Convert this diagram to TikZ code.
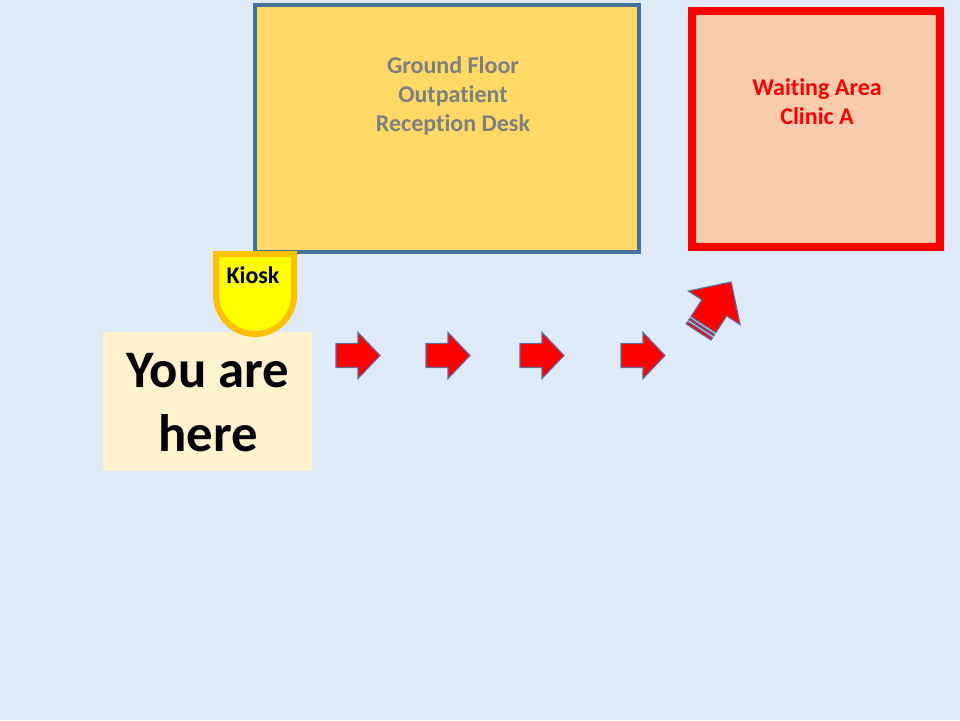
\documentclass[tikz,border=0pt]{standalone}
\usepackage{fontspec}
\setmainfont[Ligatures=NoCommon]{Carlito}
\definecolor{pagebg}{HTML}{DEEBF7}
\definecolor{deskfill}{HTML}{FFD966}
\definecolor{deskline}{HTML}{41719C}
\definecolor{deskgray}{HTML}{7F7F7F}
\definecolor{waitfill}{HTML}{F8CBAD}
\definecolor{herefill}{HTML}{FFF2CC}
\definecolor{kioskfill}{HTML}{FFFF00}
\definecolor{kioskline}{HTML}{FFC000}
\definecolor{arrowred}{HTML}{FF0000}
\definecolor{arrowline}{HTML}{5A6EA0}
\tikzset{
    redarrow/.style={fill=arrowred,draw=arrowline,line width=0.8pt,line join=miter},
    labeltext/.style={align=center,font=\bfseries}
}
\begin{document}
\begin{tikzpicture}
    \useasboundingbox (0,0) rectangle (24,18);
    \fill [pagebg] (0,0) rectangle (24,18);

    \draw [fill=deskfill,draw=deskline,line width=0.1cm] (6.375,11.7) rectangle (15.975,17.875);
    \node [labeltext,text=deskgray,font=\bfseries\fontsize{17.1}{20.6}\selectfont] (desk) at (11.325,15.6) {Ground Floor\\Outpatient\\Reception Desk};

    \draw [fill=waitfill,draw=arrowred,line width=0.2cm] (17.3,11.825) rectangle (23.5,17.725);
    \node [labeltext,text=arrowred,font=\bfseries\fontsize{17.1}{20.6}\selectfont] (waiting) at (20.425,15.4625) {Waiting Area\\Clinic A};

    \fill [herefill] (2.575,6.225) rectangle (7.8,9.7);
    \node [labeltext,font=\bfseries\fontsize{37.5}{45.5}\selectfont] (here) at (5.2,7.925) {You are\\here};

    \draw [fill=kioskfill,draw=kioskline,line width=0.15cm] (5.4,11.65) -- (7.35,11.65) -- (7.35,10.625) arc (0:-180:0.975) -- cycle;
    \node [labeltext,font=\bfseries\fontsize{17}{20}\selectfont] (kiosk) at (6.325,11.125) {Kiosk};

    \foreach \x in {8.4,10.65,13,15.525} {
        \draw [redarrow,shift={(\x,9.1125)}] (0,-0.3) -- (0.55,-0.3) -- (0.55,-0.575) -- (1.1,0) -- (0.55,0.575) -- (0.55,0.3) -- (0,0.3) -- cycle;
    }

    % striped arrow up to the clinic
    \begin{scope}[shift={(17.585,9.885)},rotate=57]
        \draw [redarrow] (0,-0.37) -- (0.5,-0.37) -- (0.5,-0.77) -- (1.27,0) -- (0.5,0.77) -- (0.5,0.37) -- (0,0.37) -- cycle;
        \draw [redarrow] (-0.1,-0.37) rectangle (-0.05,0.37);
        \draw [redarrow] (-0.22,-0.37) rectangle (-0.15,0.37);
    \end{scope}
\end{tikzpicture}
\end{document}
